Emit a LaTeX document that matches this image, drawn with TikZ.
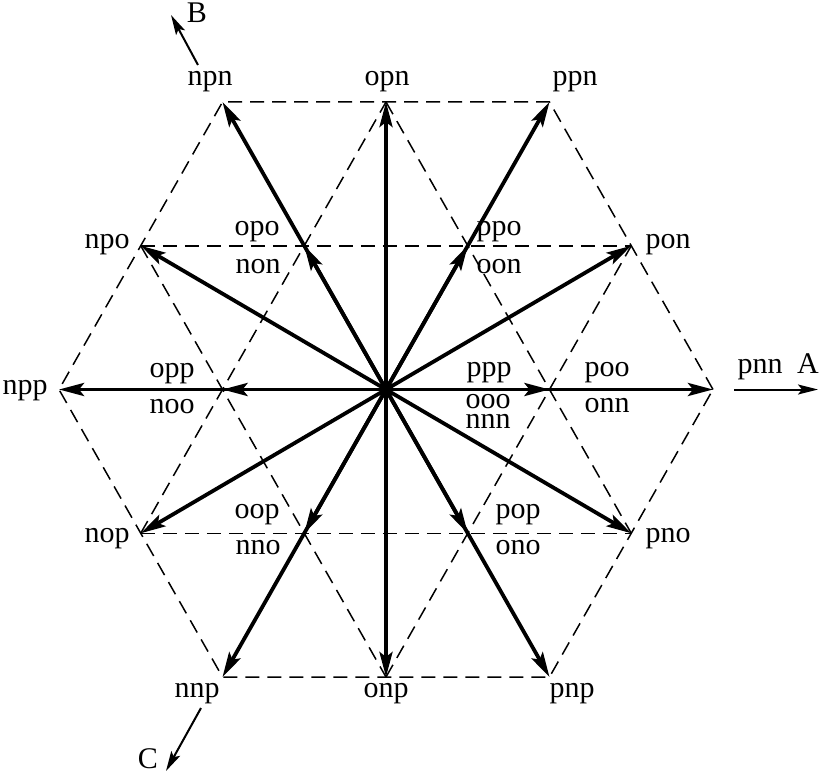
\documentclass[tikz,border=0pt]{standalone}
\usepackage{fontspec}
\setmainfont{Liberation Serif}
\usetikzlibrary{arrows.meta}
\begin{document}
\begin{tikzpicture}[x=1pt,y=-1pt,
  grid/.style={line width=1.5pt, dash pattern=on 14pt off 8pt},
  vec/.style={line width=3.8pt, -{Stealth[length=25pt,width=13pt,inset=5pt]}},
  axis/.style={line width=2pt, -{Stealth[length=20pt,width=10pt,inset=4pt]}},
  lbl/.style={inner sep=0pt, anchor=base, font=\fontsize{30}{32}\selectfont}]
\useasboundingbox (0,0) rectangle (825,773);
% vertices
\coordinate (O) at (386,389.5);
\coordinate (pnn) at (713,389.5);
\coordinate (ppn) at (549.5,102);
\coordinate (npn) at (222.5,102);
\coordinate (npp) at (59,389.5);
\coordinate (nnp) at (222.5,677);
\coordinate (pnp) at (549.5,677);
\coordinate (opn) at (386,102);
\coordinate (pon) at (631.25,245.75);
\coordinate (npo) at (140.75,245.75);
\coordinate (nop) at (140.75,533.25);
\coordinate (onp) at (386,677);
\coordinate (pno) at (631.25,533.25);
\coordinate (poo) at (549.5,389.5);
\coordinate (ppo) at (467.75,245.75);
\coordinate (opo) at (304.25,245.75);
\coordinate (opp) at (222.5,389.5);
\coordinate (oop) at (304.25,533.25);
\coordinate (pop) at (467.75,533.25);
% dashed grid
\draw[grid] (pnn) -- (ppn) -- (npn) -- (npp) -- (nnp) -- (pnp) -- cycle;
\draw[grid] (npo) -- (pon);
\draw[grid] (nop) -- (pno);
\draw[grid] (nop) -- (opn);
\draw[grid] (onp) -- (pon);
\draw[grid] (npo) -- (onp);
\draw[grid] (opn) -- (pno);
% vectors
\foreach \p in {pnn,ppn,npn,npp,nnp,pnp,opn,pon,npo,nop,onp,pno,poo,ppo,opo,opp,oop,pop}
  \draw[vec] (O) -- (\p);
% axes
\coordinate (A0) at (734,389.5); \coordinate (A1) at (818,389.5);
\coordinate (B0) at (198,65);    \coordinate (B1) at (171,15);
\coordinate (C0) at (201,708);   \coordinate (C1) at (166,771);
\draw[axis] (A0) -- (A1);
\draw[axis] (B0) -- (B1);
\draw[axis] (C0) -- (C1);
% labels
\node[lbl] (t-npn) at (210,86) {npn};
\node[lbl] (t-opn) at (387,86) {opn};
\node[lbl] (t-ppn) at (575,86) {ppn};
\node[lbl] (t-npo) at (107,248) {npo};
\node[lbl] (t-pon) at (668,248) {pon};
\node[lbl] (t-opo) at (257,235) {opo};
\node[lbl] (t-non) at (258,273) {non};
\node[lbl] (t-ppo) at (499,235) {ppo};
\node[lbl] (t-oon) at (499,273) {oon};
\node[lbl] (t-npp) at (25,394) {npp};
\node[lbl] (t-opp) at (172,377) {opp};
\node[lbl] (t-noo) at (172,413) {noo};
\node[lbl] (t-ppp) at (489,376) {ppp};
\node[inner sep=0pt, align=center, font=\fontsize{30}{20}\selectfont]
  (t-ooo) at (488,411) {ooo\\nnn};
\node[lbl] (t-poo) at (607,376) {poo};
\node[lbl] (t-onn) at (607,412) {onn};
\node[lbl] (t-pnn) at (760,373) {pnn};
\node[lbl] (t-A) at (808,373) {A};
\node[lbl] (t-nop) at (107,542) {nop};
\node[lbl] (t-pno) at (668,542) {pno};
\node[lbl] (t-oop) at (257,518) {oop};
\node[lbl] (t-nno) at (258,554) {nno};
\node[lbl] (t-pop) at (518,518) {pop};
\node[lbl] (t-ono) at (518,554) {ono};
\node[lbl] (t-nnp) at (197,697) {nnp};
\node[lbl] (t-onp) at (386,697) {onp};
\node[lbl] (t-pnp) at (572,697) {pnp};
\node[lbl] (t-B) at (197,23) {B};
\node[lbl] (t-C) at (148,768) {C};
\end{tikzpicture}
\end{document}
